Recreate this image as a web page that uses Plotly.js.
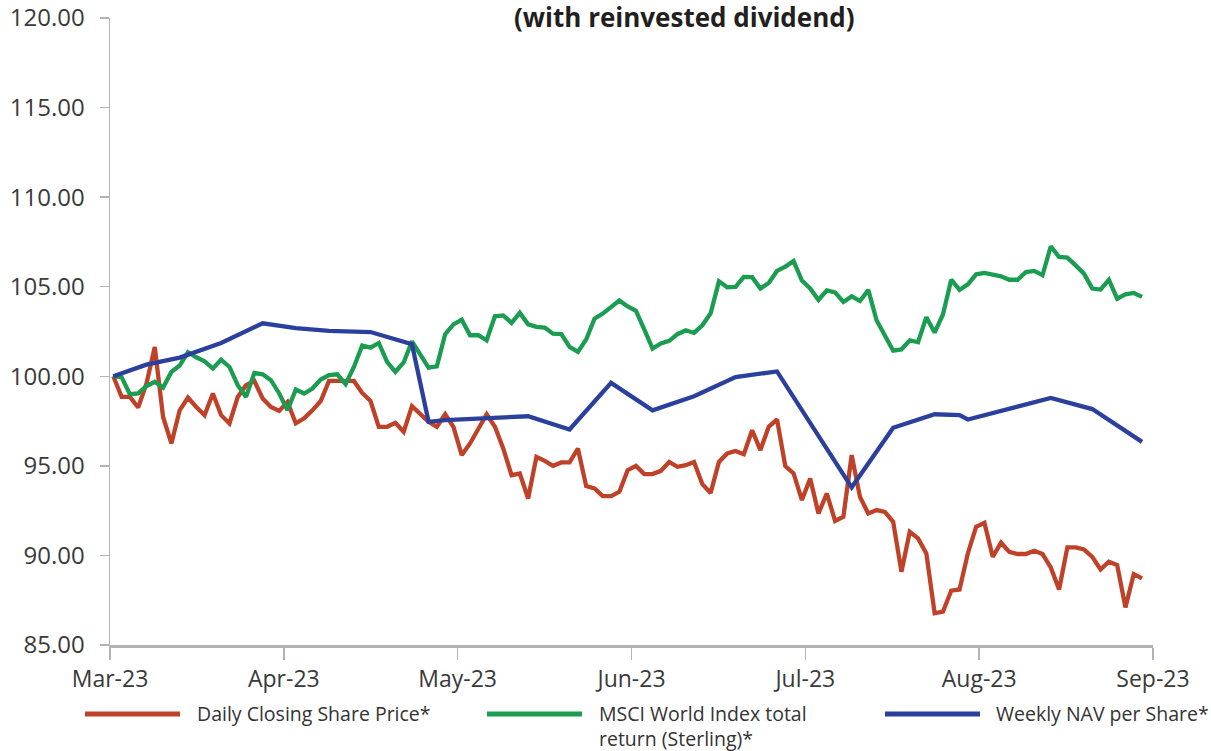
<!DOCTYPE html>
<html>
<head>
<meta charset="utf-8">
<script src="https://cdn.plot.ly/plotly-3.0.1.min.js"></script>
<style>html,body{margin:0;padding:0;background:#fff;}#chart{width:1211px;height:751px;}</style>
</head>
<body>
<div id="chart"></div>
<script>
// ---- data ----
const monthLabels = ["Mar-23","Apr-23","May-23","Jun-23","Jul-23","Aug-23","Sep-23"];

// Daily closing share price (rebased to 100), one value per trading day
const sharePrice = [
100.0, 98.85, 98.85, 98.26, 99.6, 101.64, 97.73, 96.25, 98.1, 98.81,
98.29, 97.83, 99.04, 97.83, 97.37, 98.85, 99.5, 99.74, 98.76, 98.29,
98.07, 98.57, 97.37, 97.65, 98.1, 98.62, 99.74, 99.74, 99.74, 99.74,
99.07, 98.62, 97.18, 97.18, 97.4, 96.9, 98.33, 97.92, 97.46, 97.18,
97.88, 97.18, 95.6, 96.25, 97.09, 97.88, 97.18, 95.97, 94.48, 94.57,
93.18, 95.5, 95.28, 95.0, 95.19, 95.19, 95.97, 93.87, 93.74, 93.31,
93.31, 93.55, 94.76, 95.0, 94.54, 94.54, 94.72, 95.22, 94.95, 95.04,
95.22, 93.98, 93.49, 95.22, 95.69, 95.83, 95.65, 96.99, 95.88, 97.18,
97.59, 94.98, 94.58, 93.09, 94.29, 92.34, 93.46, 91.93, 92.16, 95.6,
93.27, 92.34, 92.53, 92.43, 91.88, 89.09, 91.32, 90.95, 90.11, 86.77,
86.86, 88.03, 88.1, 90.11, 91.6, 91.82, 89.92, 90.71, 90.2, 90.08,
90.08, 90.26, 90.08, 89.33, 88.1, 90.45, 90.45, 90.34, 89.92, 89.22,
89.65, 89.46, 87.1, 88.96, 88.72];

// MSCI World Index total return (Sterling), rebased to 100
const msciWorld = [
100.0, 99.95, 99.0, 99.04, 99.45, 99.69, 99.37, 100.24, 100.6, 101.34,
101.06, 100.84, 100.43, 100.93, 100.52, 99.5, 98.85, 100.19, 100.11, 99.78,
99.04, 98.1, 99.26, 99.04, 99.32, 99.82, 100.06, 100.11, 99.56, 100.52,
101.72, 101.6, 101.86, 100.8, 100.24, 100.77, 101.95, 101.2, 100.48, 100.56,
102.35, 102.9, 103.16, 102.29, 102.29, 102.01, 103.35, 103.4, 102.98, 103.54,
102.9, 102.76, 102.72, 102.38, 102.35, 101.64, 101.36, 102.05, 103.22, 103.5,
103.83, 104.23, 103.9, 103.65, 102.62, 101.55, 101.83, 101.98, 102.35, 102.57,
102.42, 102.85, 103.52, 105.3, 104.97, 104.99, 105.55, 105.53, 104.9, 105.21,
105.88, 106.12, 106.43, 105.34, 104.9, 104.26, 104.8, 104.68, 104.15, 104.46,
104.2, 104.82, 103.13, 102.29, 101.43, 101.5, 102.01, 101.9, 103.3, 102.44,
103.45, 105.39, 104.82, 105.13, 105.69, 105.77, 105.69, 105.58, 105.39, 105.39,
105.82, 105.88, 105.64, 107.26, 106.66, 106.62, 106.19, 105.73, 104.9, 104.84,
105.39, 104.33, 104.57, 104.65, 104.43];

// Weekly NAV per share: trading-day index of each NAV and its value
const navDay   = [0, 4, 8, 13, 18, 22, 26, 31, 36, 38, 40, 50, 55, 60, 65, 70, 75, 80, 89, 94, 99, 102, 103, 113, 118, 124];
const navValue = [100.0, 100.65, 101.04, 101.86, 102.96, 102.69, 102.53, 102.47, 101.79, 97.46, 97.55, 97.77, 97.03, 99.63, 98.1, 98.89, 99.96, 100.27, 93.8, 97.13, 97.88, 97.83, 97.59, 98.79, 98.17, 96.34];

const yTicks = [85, 90, 95, 100, 105, 110, 115, 120];

// legend labels (each entry may span several lines)
const seriesNames = [
  ["Daily Closing Share Price*"],
  ["MSCI World Index total", "return (Sterling)*"],
  ["Weekly NAV per Share*"]
];
const seriesColors = ["#bf4128", "#1a9d50", "#2b409c"];

// ---- scale: trading-day index -> month axis units (Mar-23 = 0 ... Sep-23 = 6) ----
const firstDayPos = 0.019, lastDayPos = 5.937;
const nDays = sharePrice.length;
function dayToX(d){ return firstDayPos + d * (lastDayPos - firstDayPos) / (nDays - 1); }
const dayX = sharePrice.map((_, i) => dayToX(i));
const navX = navDay.map(dayToX);

const traces = [
  {x: dayX, y: sharePrice, name: "Daily Closing Share Price*", mode: "lines", line: {color: seriesColors[0], width: 4.3}, hoverinfo: "skip"},
  {x: dayX, y: msciWorld, name: "MSCI World Index total return (Sterling)*", mode: "lines", line: {color: seriesColors[1], width: 4.3}, hoverinfo: "skip"},
  {x: navX, y: navValue, name: "Weekly NAV per Share*", mode: "lines", line: {color: seriesColors[2], width: 4.3}, hoverinfo: "skip"}
];

// ---- layout geometry (pixels) ----
const W = 1211, H = 751;
const M = {l: 110, r: 58, t: 17.5, b: 106};
const plotW = W - M.l - M.r, plotH = H - M.t - M.b;
function px(xp){ return (xp - M.l) / plotW; }
function py(yp){ return (H - M.b - yp) / plotH; }

const legendY = 714, legendLineGap = 25;
const legendItems = [
  {x0: 85, x1: 180, tx: 196},
  {x0: 487, x1: 582, tx: 598},
  {x0: 885, x1: 980, tx: 995}
];

const shapes = legendItems.map((it, i) => ({
  type: "line", xref: "paper", yref: "paper",
  x0: px(it.x0), x1: px(it.x1), y0: py(legendY), y1: py(legendY),
  line: {color: seriesColors[i], width: 5}
}));

const legendFont = {family: "Open Sans, Arial, sans-serif", size: 19.5, color: "#333333"};
const annotations = [];
legendItems.forEach((it, i) => {
  seriesNames[i].forEach((line, k) => {
    annotations.push({
      xref: "paper", yref: "paper", x: px(it.tx), y: py(legendY + k * legendLineGap),
      xanchor: "left", yanchor: "middle", align: "left", showarrow: false, borderpad: 0,
      text: line, font: legendFont
    });
  });
});
annotations.push({
  xref: "paper", yref: "paper", x: px(684), y: py(16), xanchor: "center", yanchor: "middle",
  showarrow: false, borderpad: 0, text: "<b>(with reinvested dividend)</b>",
  font: {family: "Open Sans, Arial, sans-serif", size: 26, color: "#231f20"}
});

const layout = {
  width: W, height: H,
  margin: M,
  paper_bgcolor: "#ffffff", plot_bgcolor: "#ffffff",
  showlegend: false,
  xaxis: {
    range: [0, 6], tickvals: [0,1,2,3,4,5,6], ticktext: monthLabels,
    showgrid: false, zeroline: false,
    showline: true, linecolor: "#b3b3b3", linewidth: 2.5,
    ticks: "outside", ticklen: 12, tickwidth: 1.5, tickcolor: "#b3b3b3",
    tickfont: {family: "Open Sans, Arial, sans-serif", size: 23, color: "#3a3a3a"},
    ticklabelstandoff: 0
  },
  yaxis: {
    range: [85, 120], tickvals: yTicks, tickformat: ".2f",
    showgrid: false, zeroline: false,
    showline: true, linecolor: "#b3b3b3", linewidth: 1.5,
    ticks: "outside", ticklen: 9, tickwidth: 1.5, tickcolor: "#b3b3b3",
    tickfont: {family: "Open Sans, Arial, sans-serif", size: 24, color: "#3a3a3a"},
    ticklabelstandoff: 10
  },
  shapes: shapes,
  annotations: annotations
};

Plotly.newPlot("chart", traces, layout, {displayModeBar: false, staticPlot: true});
</script>
</body>
</html>
